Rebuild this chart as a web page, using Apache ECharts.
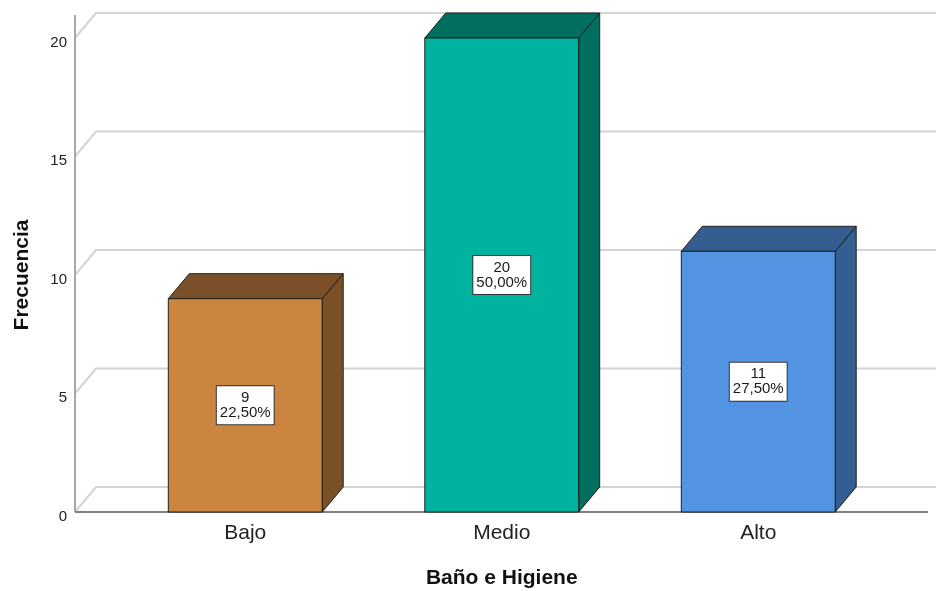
<!DOCTYPE html>
<html>
<head>
<meta charset="utf-8">
<script src="https://cdn.jsdelivr.net/npm/echarts@6/dist/echarts.min.js"></script>
<style>
  html, body { margin: 0; padding: 0; background: #ffffff; }
  #chart { width: 936px; height: 591px; }
</style>
</head>
<body>
<div id="chart"></div>
<script>
// Frequency of each level
const categories = ['Bajo', 'Medio', 'Alto'];
const counts = [9, 20, 11];
const yTicks = [0, 5, 10, 15, 20];

// Face colours per bar: front, top/side (shaded)
const frontColors = ['#CC853F', '#00B3A0', '#5294E2'];
const shadeColors = ['#7B5029', '#006F60', '#335E8F'];

const total = counts.reduce((a, b) => a + b, 0);
const pctText = v => (v / total * 100).toFixed(2).replace('.', ',') + '%';

// Pseudo-3D depth of the boxes and back wall
const DX = 21, DY = 25;
const AXIS_OFFSET = 42;   // y axis line sits left of the plotting band
const FONT = '"Liberation Sans", Arial, sans-serif';

const chart = echarts.init(document.getElementById('chart'));

function wallItem(params, api) {
  const cs = params.coordSys;
  const x0 = cs.x - AXIS_OFFSET;
  const y = api.coord([0, api.value(0)])[1];
  return {
    type: 'polyline',
    shape: { points: [[x0, y], [x0 + DX, y - DY], [936, y - DY]] },
    style: { stroke: '#d4d4d4', lineWidth: 2, fill: null },
    silent: true
  };
}

function barItem(params, api) {
  const idx = api.value(0);
  const v = api.value(1);
  const top = api.coord([idx, v]);
  const base = api.coord([idx, 0]);
  const w = api.size([1, 0])[0] * 0.6;
  const xl = top[0] - w / 2, xr = top[0] + w / 2;
  const yt = top[1], yb = base[1];
  const stroke = { stroke: '#1e1e1e', lineWidth: 1 };
  return {
    type: 'group',
    children: [
      {
        type: 'polygon',
        shape: { points: [[xr, yb], [xr + DX, yb - DY], [xr + DX, yt - DY], [xr, yt]] },
        style: Object.assign({ fill: shadeColors[idx] }, stroke)
      },
      {
        type: 'polygon',
        shape: { points: [[xl, yt], [xl + DX, yt - DY], [xr + DX, yt - DY], [xr, yt]] },
        style: Object.assign({ fill: shadeColors[idx] }, stroke)
      },
      {
        type: 'rect',
        shape: { x: xl, y: yt, width: w, height: yb - yt },
        style: Object.assign({ fill: frontColors[idx] }, stroke)
      },
      {
        type: 'text',
        x: top[0],
        y: (yt + yb) / 2,
        style: {
          text: String(v) + '\n' + pctText(v),
          fontFamily: FONT,
          fontSize: 15,
          lineHeight: 15,
          fill: '#1a1a1a',
          align: 'center',
          verticalAlign: 'middle',
          backgroundColor: '#ffffff',
          borderColor: '#333333',
          borderWidth: 1,
          padding: [4, 3, 4, 3]
        }
      }
    ]
  };
}

function frameItem(params, api) {
  const cs = params.coordSys;
  const x0 = cs.x - AXIS_OFFSET;
  const yb = api.coord([0, 0])[1];
  return {
    type: 'group',
    children: [
      {
        type: 'line',
        shape: { x1: x0, y1: yb, x2: x0, y2: 15 },
        style: { stroke: '#a8a8a8', lineWidth: 2 }
      },
      {
        type: 'line',
        shape: { x1: x0, y1: yb, x2: 928, y2: yb },
        style: { stroke: '#808080', lineWidth: 2 }
      }
    ]
  };
}

chart.setOption({
  backgroundColor: '#ffffff',
  animation: false,
  grid: { left: 117, right: 49.5, top: 38, bottom: 79, containLabel: false, outerBoundsMode: 'none' },
  xAxis: {
    type: 'category',
    data: categories,
    axisLine: { show: false },
    axisTick: { show: false },
    axisLabel: { fontFamily: FONT, fontSize: 21, color: '#222222', margin: 11 },
    name: 'Baño e Higiene',
    nameLocation: 'middle',
    nameGap: 56,
    nameTextStyle: { fontFamily: FONT, fontSize: 21, fontWeight: 'bold', color: '#111111' }
  },
  yAxis: {
    type: 'value',
    min: 0,
    max: 20,
    interval: 5,
    offset: AXIS_OFFSET,
    axisLine: { show: false },
    axisTick: { show: false },
    splitLine: { show: false },
    axisLabel: {
      fontFamily: FONT, fontSize: 15, color: '#222222', margin: 8,
      verticalAlign: 'top', lineHeight: 9
    },
    name: 'Frecuencia',
    nameLocation: 'middle',
    nameGap: 42,
    nameTextStyle: { fontFamily: FONT, fontSize: 21, fontWeight: 'bold', color: '#111111' }
  },
  series: [
    {
      type: 'custom',
      renderItem: wallItem,
      data: yTicks.map(t => [t]),
      z: 1,
      silent: true
    },
    {
      type: 'custom',
      renderItem: frameItem,
      data: [[0]],
      z: 2,
      silent: true
    },
    {
      type: 'custom',
      renderItem: barItem,
      data: counts.map((c, i) => [i, c]),
      z: 3
    }
  ]
});
</script>
</body>
</html>
